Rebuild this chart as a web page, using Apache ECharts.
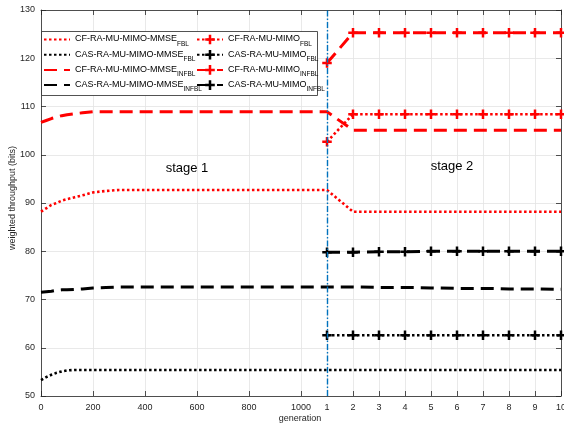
<!DOCTYPE html>
<html><head><meta charset="utf-8">
<script src="https://cdn.jsdelivr.net/npm/echarts@6/dist/echarts.min.js"></script>
<style>html,body{margin:0;padding:0;background:#fff}#c{width:564px;height:428px}</style>
</head><body><div id="c"></div>
<script>
// ---- data ----
const stage1Gen = [0,20,40,60,80,100,130,160,200,250,300,400,500,600,700,800,900,1000];
const stage2Idx = [1,2,3,4,5,6,7,8,9,10];
const stage1TickLabels = [0,200,400,600,800,1000];

const cfMmseFbl1   = [88.2,88.9,89.6,90.0,90.5,90.8,91.2,91.6,92.2,92.5,92.7,92.7,92.7,92.7,92.7,92.7,92.7,92.7];
const cfMmseFbl2   = [92.7,88.2,88.2,88.2,88.2,88.2,88.2,88.2,88.2,88.2];
const casMmseFbl1  = [53.3,53.9,54.4,54.8,55.1,55.3,55.4,55.4,55.4,55.4,55.4,55.4,55.4,55.4,55.4,55.4,55.4,55.4];
const casMmseFbl2  = [55.4,55.4,55.4,55.4,55.4,55.4,55.4,55.4,55.4,55.4];
const cfMmseInf1   = [106.7,107.1,107.5,107.8,108.1,108.3,108.5,108.7,108.9,108.9,108.9,108.9,108.9,108.9,108.9,108.9,108.9,108.9];
const cfMmseInf2   = [108.9,105.1,105.1,105.1,105.1,105.1,105.1,105.1,105.1,105.1];
const casMmseInf1  = [71.5,71.6,71.7,71.9,72.0,72.0,72.1,72.2,72.4,72.5,72.6,72.6,72.6,72.6,72.6,72.6,72.6,72.6];
const casMmseInf2  = [72.6,72.6,72.5,72.5,72.4,72.3,72.3,72.2,72.2,72.1];

const cfMimoFbl    = [102.7,108.4,108.4,108.4,108.4,108.4,108.4,108.4,108.4,108.4];
const casMimoFbl   = [62.6,62.6,62.6,62.6,62.6,62.6,62.6,62.6,62.6,62.6];
const cfMimoInf    = [119.0,125.3,125.3,125.3,125.3,125.3,125.3,125.3,125.3,125.3];
const casMimoInf   = [79.8,79.8,79.9,79.9,80.0,80.0,80.0,80.0,80.0,80.0];

// stage-2 index k sits at 1000 + 100*k on the shared generation axis
const s2 = k => 1000 + 100 * k;
const xTickValues = stage1TickLabels.concat(stage2Idx.map(s2));
const joinStages = (a, b) => stage1Gen.map((g, i) => [g, a[i]]).concat(stage2Idx.map((k, i) => [s2(k), b[i]]));
const stage2Only = b => stage2Idx.map((k, i) => [s2(k), b[i]]);

const RED = '#FF0000', BLACK = '#000000';
const DOT = [2.5, 2.5], DASH = [13, 7];
const PLUS = 'path://M3.5,0h2.5v3.5h3.5v2.5h-3.5v3.5h-2.5v-3.5h-3.5v-2.5h3.5z';

function mmse(name, color, dash, data) {
  return { name, type: 'line', data, symbol: 'none', showSymbol: false,
    lineStyle: { color, width: dash === DOT ? 2.6 : 3, type: dash, cap: 'butt' },
    itemStyle: { color }, z: 2, animation: false };
}
function mimo(name, color, dash, data) {
  return { name, type: 'line', data, symbol: PLUS, symbolSize: 9.5, showSymbol: true,
    lineStyle: { color, width: dash === DOT ? 2.6 : 3, type: dash, cap: 'butt' },
    itemStyle: { color, opacity: 1 }, z: 3, animation: false };
}

const N = {
  a: 'CF-RA-MU-MIMO-MMSE_FBL', b: 'CAS-RA-MU-MIMO-MMSE_FBL',
  c: 'CF-RA-MU-MIMO-MMSE_INFBL', d: 'CAS-RA-MU-MIMO-MMSE_INFBL',
  e: 'CF-RA-MU-MIMO_FBL', f: 'CAS-RA-MU-MIMO_FBL',
  g: 'CF-RA-MU-MIMO_INFBL', h: 'CAS-RA-MU-MIMO_INFBL'
};

const series = [
  mmse(N.a, RED, DOT, joinStages(cfMmseFbl1, cfMmseFbl2)),
  mmse(N.b, BLACK, DOT, joinStages(casMmseFbl1, casMmseFbl2)),
  mmse(N.c, RED, DASH, joinStages(cfMmseInf1, cfMmseInf2)),
  mmse(N.d, BLACK, DASH, joinStages(casMmseInf1, casMmseInf2)),
  mimo(N.e, RED, DOT, stage2Only(cfMimoFbl)),
  mimo(N.f, BLACK, DOT, stage2Only(casMimoFbl)),
  mimo(N.g, RED, DASH, stage2Only(cfMimoInf)),
  mimo(N.h, BLACK, DASH, stage2Only(casMimoInf))
];
series[0].markLine = {
  silent: true, symbol: ['none', 'none'], label: { show: false },
  lineStyle: { color: '#0072BD', width: 1.4, type: [6, 2, 1.5, 2] },
  data: [{ xAxis: s2(1) }], animation: false
};

const FONT = 'Liberation Sans, Arial, Helvetica, sans-serif';
const AX = '#262626';
const legendText = {
  fontFamily: FONT, color: '#000',
  rich: {
    m: { fontSize: 9, fontFamily: FONT, color: '#000', lineHeight: 10, verticalAlign: 'top' },
    s: { fontSize: 6.5, fontFamily: FONT, color: '#000', lineHeight: 8, verticalAlign: 'top', padding: [6, 0, 0, 0] }
  }
};
const fmt = n => { const p = n.split('_'); return '{m|' + p[0] + '}{s|' + p[1] + '}'; };
function legend(left, names, noSymbol) {
  return { left, top: 34.5, orient: 'vertical', itemGap: 2.2, itemWidth: 26, itemHeight: 12,
    itemTextGap: 3, padding: 0,
    data: names.map(n => noSymbol ? { name: n, itemStyle: { opacity: 0 } } : { name: n }),
    formatter: fmt, textStyle: legendText, selectedMode: false, z: 10 };
}

const option = {
  animation: false,
  backgroundColor: '#fff',
  grid: { left: 41, right: 3, top: 10, bottom: 32, containLabel: false, outerBoundsMode: 'none' },
  legend: [legend(43, [N.a, N.b, N.c, N.d], true), legend(196, [N.e, N.f, N.g, N.h], false)],
  graphic: [
    { type: 'rect', shape: { x: 41.5, y: 31.5, width: 276, height: 64 }, z: 5,
      style: { fill: '#fff', stroke: '#262626', lineWidth: 0.8 } },
    { type: 'text', x: 187, y: 168, z: 6, style: { text: 'stage 1', font: '13px ' + FONT, fill: '#000', textAlign: 'center', textVerticalAlign: 'middle' } },
    { type: 'text', x: 452, y: 166, z: 6, style: { text: 'stage 2', font: '13px ' + FONT, fill: '#000', textAlign: 'center', textVerticalAlign: 'middle' } },
    { type: 'text', x: 300, y: 419, z: 6, style: { text: 'generation', font: '9px ' + FONT, fill: AX, textAlign: 'center', textVerticalAlign: 'middle' } },
    { type: 'text', x: 13, y: 198, rotation: Math.PI / 2, z: 6, style: { text: 'weighted throughput (bits)', font: '9px ' + FONT, fill: AX, textAlign: 'center', textVerticalAlign: 'middle' } }
  ],
  xAxis: [
    { type: 'value', min: 0, max: s2(10), position: 'bottom',
      axisLine: { show: true, onZero: false, lineStyle: { color: AX, width: 0.8 } },
      axisTick: { show: true, inside: true, length: 5, customValues: xTickValues, lineStyle: { color: AX, width: 0.8 } },
      axisLabel: { customValues: xTickValues, fontSize: 9, fontFamily: FONT, color: AX, margin: 7,
        formatter: v => v <= 1000 ? String(v) : String((v - 1000) / 100) },
      splitLine: { show: true, lineStyle: { color: '#e3e3e3', width: 0.8 } } },
    { type: 'value', min: 0, max: s2(10), position: 'top',
      axisLine: { show: true, onZero: false, lineStyle: { color: AX, width: 0.8 } },
      axisTick: { show: true, inside: true, length: 5, customValues: xTickValues, lineStyle: { color: AX, width: 0.8 } },
      axisLabel: { show: false }, splitLine: { show: false } }
  ],
  yAxis: [
    { type: 'value', min: 50, max: 130, interval: 10, position: 'left',
      axisLine: { show: true, onZero: false, lineStyle: { color: AX, width: 0.8 } },
      axisTick: { show: true, inside: true, length: 5, lineStyle: { color: AX, width: 0.8 } },
      axisLabel: { fontSize: 9, fontFamily: FONT, color: AX, margin: 6 },
      splitLine: { show: true, lineStyle: { color: '#e3e3e3', width: 0.8 } } },
    { type: 'value', min: 50, max: 130, interval: 10, position: 'right',
      axisLine: { show: true, onZero: false, lineStyle: { color: AX, width: 0.8 } },
      axisTick: { show: true, inside: true, length: 5, lineStyle: { color: AX, width: 0.8 } },
      axisLabel: { show: false }, splitLine: { show: false } }
  ],
  series
};
const chart = echarts.init(document.getElementById('c'), null, { renderer: 'canvas' });
chart.setOption(option);
</script>
</body></html>
